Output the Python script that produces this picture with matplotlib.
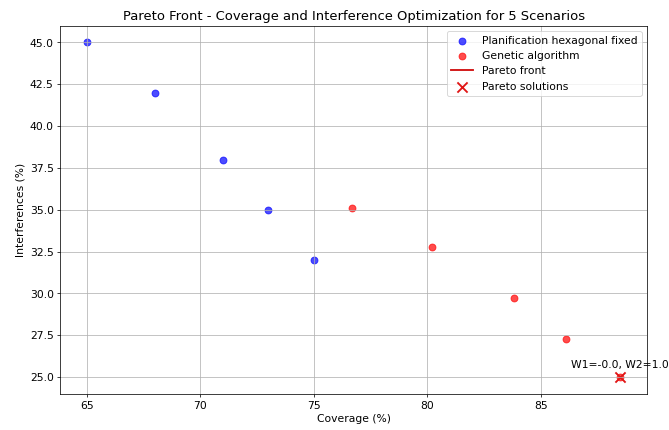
import numpy as np
import matplotlib.pyplot as plt

# coverage / interference values per scenario
hex_coverage = [65, 68, 71, 73, 75]
hex_interf = [45, 42, 38, 35, 32]
ga_coverage = [76.7, 80.2, 83.8, 86.1, 88.5]
ga_interf = [35.1, 32.8, 29.7, 27.3, 25.0]
pareto_coverage = [88.5]
pareto_interf = [25.0]
pareto_labels = ["W1=-0.0, W2=1.0"]

plt.rcParams['font.size'] = 11.6
fig = plt.figure(figsize=(10, 6.43), dpi=66.9)
plt.scatter(hex_coverage, hex_interf, color='blue', alpha=0.7, s=55, label='Planification hexagonal fixed')
plt.scatter(ga_coverage, ga_interf, color='red', alpha=0.7, s=55, label='Genetic algorithm')
plt.plot(pareto_coverage, pareto_interf, color='#d01010', linewidth=2, label='Pareto front')
plt.scatter(pareto_coverage, pareto_interf, color='#e01515', marker='x', s=120, linewidths=2, label='Pareto solutions')
for x, y, t in zip(pareto_coverage, pareto_interf, pareto_labels):
    plt.annotate(t, (x, y), textcoords='offset points', xytext=(0, 10), ha='center')
plt.xlabel('Coverage (%)')
plt.ylabel('Interferences (%)')
plt.title('Pareto Front - Coverage and Interference Optimization for 5 Scenarios', fontsize=14.2)
plt.legend(loc='upper right')
plt.grid(True)
plt.subplots_adjust(left=0.09, right=0.967, top=0.94, bottom=0.084)
plt.savefig('out.png', dpi=66.9)
